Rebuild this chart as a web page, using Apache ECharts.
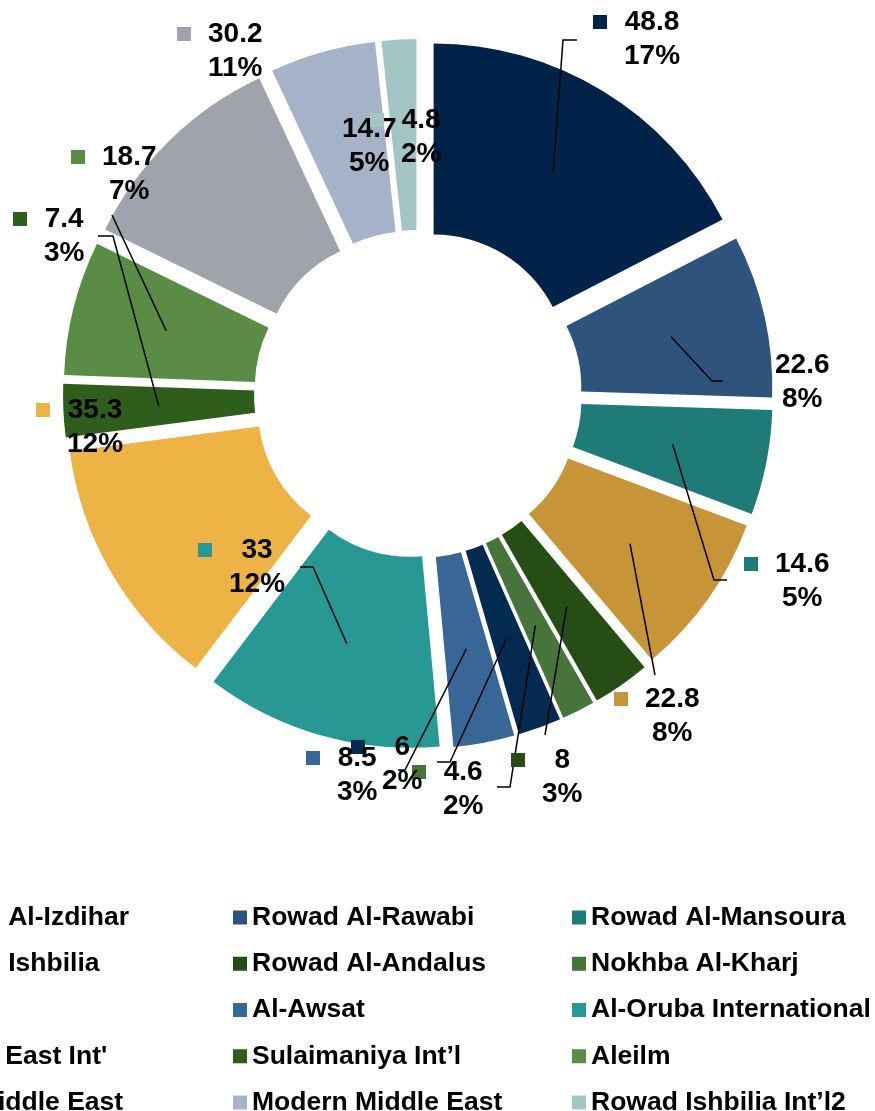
<!DOCTYPE html>
<html><head><meta charset="utf-8">
<script src="https://cdn.jsdelivr.net/npm/echarts@6/dist/echarts.min.js"></script>
<style>html,body{margin:0;padding:0;background:#fff}#c{width:875px;height:1111px}</style>
</head><body><div id="c"></div>
<script>
// ---- data ----
const names = ['Rowad Al-Izdihar','Rowad Al-Rawabi','Rowad Al-Mansoura','Rowad Ishbilia','Rowad Al-Andalus','Nokhba Al-Kharj','Najd','Al-Awsat','Al-Oruba International',"Middle East Int'",'Sulaimaniya Int\u2019l','Aleilm','New Middle East','Modern Middle East','Rowad Ishbilia Int\u2019l2'];
const values = [48.8,22.6,14.6,22.8,8,4.6,6,8.5,33,35.3,7.4,18.7,30.2,14.7,4.8];
const valueLabels = ['48.8','22.6','14.6','22.8','8','4.6','6','8.5','33','35.3','7.4','18.7','30.2','14.7','4.8'];
const percentLabels = ['17%','8%','5%','8%','3%','2%','2%','3%','12%','12%','3%','7%','11%','5%','2%'];
const colors = ['#01234A','#2E547E','#1F7B77','#C79538','#264D16','#47743A','#032A50','#386697','#279893','#EDB345','#2F5E1C','#5A8C45','#A0A3AB','#A5B2C7','#A3C6C5'];
const legendCols = [[0,3,6,9,12],[1,4,7,10,13],[2,5,8,11,14]];

// ---- layout (positions only) ----
const CX = 418, CY = 394, R0 = 134, R1 = 325, OFF = 30;
const labelPos = [[593,5],[744,348],[744,547],[614,682],[511,743],[412,755],[351,730],[306,741],[198,533],[36,393],[13,202],[71,140],[177,17],[311,112],[370,103]];
const leader = [[[563,40],[577,40]],[[712,381],[723,381]],[[714,580],[727,580]],[[655,675]],[[545,735]],[[510,787],[497,787]],[[450,762],[437,762]],[[405,770],[398,770]],[[313,567],[300,567]],null,[[113,236],[98,236]],[[112,215]],null,null,null];

const total = values.reduce((a,b)=>a+b,0);
const mids = []; let acc = 0;
values.forEach(v => { mids.push((acc + v/2)/total*2*Math.PI); acc += v; });

const FONT = '"Liberation Sans", Arial, sans-serif';
const NONE = 'rgba(0,0,0,0)';
const rich = {
  g: {width: 17, height: 14},
  sp: {width: 31, height: 14},
  v: {fontSize: 28, fontWeight: 'bold', fontFamily: FONT, color: '#000', lineHeight: 34, align: 'center'}
};
colors.forEach((c,i) => { rich['sq'+i] = {width: 14, height: 14, backgroundColor: c}; });

// exploded slices: one pie per slice, centre moved out along the slice bisector
const sliceSeries = values.map((_, i) => ({
  type: 'pie', z: 2,
  center: [CX + OFF*Math.sin(mids[i]), CY - OFF*Math.cos(mids[i])],
  radius: [R0, R1], startAngle: 90, clockwise: true,
  silent: true, label: {show: false}, labelLine: {show: false},
  itemStyle: {borderWidth: 0},
  data: values.map((v, j) => ({name: names[j], value: v, itemStyle: {color: j === i ? colors[j] : NONE}}))
}));

// label layer on top
const labelSeries = {
  type: 'pie', z: 5,
  center: [CX, CY], radius: [R0, R1], startAngle: 90, clockwise: true,
  silent: true, avoidLabelOverlap: false,
  itemStyle: {color: NONE, borderWidth: 0},
  label: {
    show: true, position: 'outside',
    formatter: p => '{sq'+p.dataIndex+'|}{g|}{v|'+valueLabels[p.dataIndex]+'}\n{sp|}{v|'+percentLabels[p.dataIndex]+'}',
    rich: rich
  },
  labelLine: {show: true, lineStyle: {color: '#000', width: 1.5}},
  labelLayout: function (params) {
    const i = params.dataIndex;
    const out = {x: labelPos[i][0], y: labelPos[i][1], align: 'left', verticalAlign: 'top'};
    if (leader[i]) {
      const rr = OFF + (R0 + R1) / 2;
      const s = [CX + rr*Math.sin(mids[i]), CY - rr*Math.cos(mids[i])];
      const pts = [s].concat(leader[i]);
      if (pts.length < 3) pts.push(pts[pts.length-1]);
      out.labelLinePoints = pts;
    }
    return out;
  },
  data: values.map((v,i) => ({
    name: names[i], value: v,
    labelLine: {show: !!leader[i]}
  }))
};

const chart = echarts.init(document.getElementById('c'), null, {renderer: 'canvas'});
const legendBase = {
  orient: 'vertical', top: 904, height: 300, itemWidth: 14, itemHeight: 14, itemGap: 19.25, padding: 0,
  icon: 'rect', selectedMode: false,
  textStyle: {fontSize: 26.5, fontWeight: 'bold', fontFamily: FONT, color: '#000', lineHeight: 26}
};
const legendData = col => col.map(i => ({name: names[i], itemStyle: {color: colors[i]}}));
chart.setOption({
  animation: false,
  legend: [
    Object.assign({}, legendBase, {left: -105, data: legendData(legendCols[0])}),
    Object.assign({}, legendBase, {left: 233, data: legendData(legendCols[1])}),
    Object.assign({}, legendBase, {left: 572, data: legendData(legendCols[2])})
  ],
  series: sliceSeries.concat([labelSeries])
});
</script></body></html>
